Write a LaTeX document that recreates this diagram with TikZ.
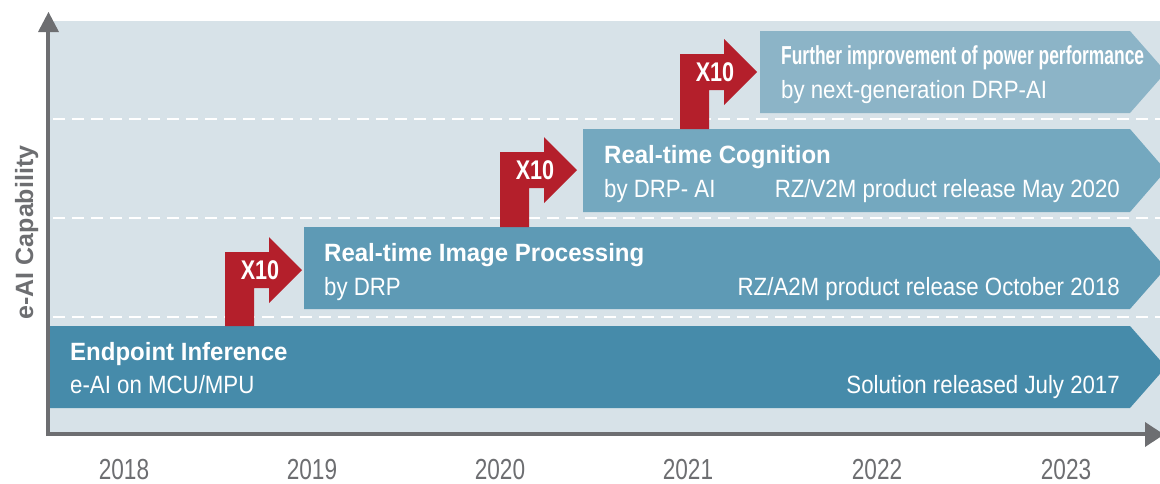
\documentclass[tikz,border=0pt]{standalone}
\usepackage{fontspec}
\setmainfont{Liberation Sans}
\newfontfamily\fcondB[FakeStretch=0.96]{Liberation Sans}
\newfontfamily\fcondR[FakeStretch=0.89]{Liberation Sans}
\newfontfamily\fcondF[FakeStretch=0.67]{Liberation Sans}
\newfontfamily\fcondY[FakeStretch=0.78]{Liberation Sans}
\newfontfamily\fcondX[FakeStretch=0.80]{Liberation Sans}
\newfontfamily\fcondL[FakeStretch=1.00]{Liberation Sans}
\definecolor{bgc}{HTML}{D7E2E8}
\definecolor{axc}{HTML}{6D6E71}
\definecolor{barA}{HTML}{468BAA}
\definecolor{barB}{HTML}{5E9AB5}
\definecolor{barC}{HTML}{74A8BF}
\definecolor{barD}{HTML}{8CB4C7}
\definecolor{redc}{HTML}{B41F2B}
\tikzset{
  txt/.style={inner sep=0pt, text=white},
  titletxt/.style={txt, font=\fcondB\bfseries\fontsize{25}{30}\selectfont},
  subtxt/.style={txt, font=\fcondR\fontsize{25}{30}\selectfont},
  furthertxt/.style={txt, font=\fcondF\bfseries\fontsize{26}{30}\selectfont},
  yeartxt/.style={inner sep=0pt, text=axc, font=\fcondY\fontsize{29}{34}\selectfont, anchor=base},
  xtxt/.style={inner sep=0pt, text=white, font=\fcondX\bfseries\fontsize{27}{30}\selectfont},
  dashline/.style={draw=white, line width=2pt, dash pattern=on 12pt off 7pt},
  axisline/.style={draw=axc, line width=4pt},
}
\begin{document}
\begin{tikzpicture}[x=1pt,y=-1pt]
\useasboundingbox (0,0) rectangle (1160,483);
\clip (0,0) rectangle (1160,483);
% background
\fill[bgc] (49,21) rectangle (1162,434);
% dashed level lines
\foreach \yy in {119,218,317} \draw[dashline] (53,\yy) -- (1162,\yy);
% bars (chevrons)
\fill[barA] (49,326) -- (1130,326) -- (1166,367) -- (1130,408) -- (49,408) -- cycle;
\fill[barB] (304,227) -- (1130,227) -- (1166,268) -- (1130,309) -- (304,309) -- cycle;
\fill[barC] (583,129) -- (1130,129) -- (1166,170.5) -- (1130,212) -- (583,212) -- cycle;
\fill[barD] (760,31) -- (1130,31) -- (1166,72) -- (1130,113) -- (760,113) -- cycle;
% red step arrows
\foreach \L/\C/\B/\nm in {225/270/326/xa, 500/170/227/xb, 680/72/129/xc}{
  \fill[redc] (\L,\B) -- (\L,\C-18) -- (\L+44,\C-18) -- (\L+44,\C-33) -- (\L+77,\C)
    -- (\L+44,\C+33) -- (\L+44,\C+18) -- (\L+29,\C+18) -- (\L+29,\B) -- cycle;
  \node[xtxt] (\nm) at (\L+35,\C) {X10};
}
% texts
\node[titletxt, anchor=base west] (t1) at (70,360) {Endpoint Inference};
\node[subtxt, anchor=base west] (s1) at (70,393) {e-AI on MCU/MPU};
\node[subtxt, anchor=base east] (r1) at (1120,393) {Solution released July 2017};
\node[titletxt, anchor=base west] (t2) at (324,261) {Real-time Image Processing};
\node[subtxt, anchor=base west] (s2) at (324,295) {by DRP};
\node[subtxt, anchor=base east] (r2) at (1120,295) {RZ/A2M product release October 2018};
\node[titletxt, anchor=base west] (t3) at (604,163) {Real-time Cognition};
\node[subtxt, anchor=base west] (s3) at (604,197) {by DRP- AI};
\node[subtxt, anchor=base east] (r3) at (1120,197) {RZ/V2M product release May 2020};
\node[furthertxt, anchor=base west] (t4) at (781,64) {Further improvement of power performance};
\node[subtxt, anchor=base west] (s4) at (781,98) {by next-generation DRP-AI};
% axes
\draw[axisline] (48,436) -- (48,30);
\fill[axc] (38,32) -- (59,32) -- (48.5,12) -- cycle;
\draw[axisline] (46,434) -- (1147,434);
\fill[axc] (1145,422) -- (1145,447) -- (1164,434.5) -- cycle;
% axis label
\node[inner sep=0pt, text=axc, font=\fcondL\bfseries\fontsize{25}{30}\selectfont, rotate=90, anchor=base] (ylab) at (33,232.5) {e-AI Capability};
% years
\foreach \yr/\xx in {2018/124,2019/312,2020/500,2021/688,2022/877,2023/1066}
  \node[yeartxt] (y\yr) at (\xx,479) {\yr};
\end{tikzpicture}
\end{document}
